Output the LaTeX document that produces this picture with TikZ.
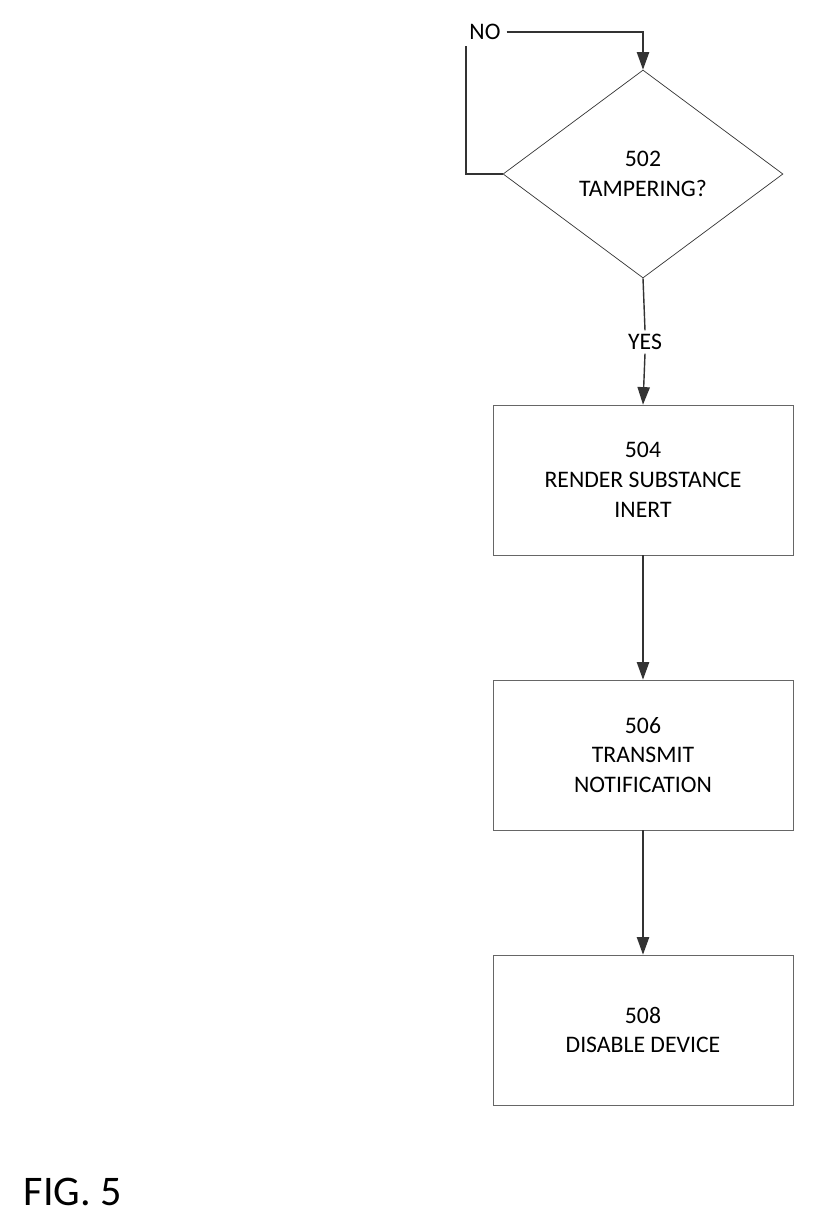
\documentclass[tikz,border=0pt]{standalone}
\usepackage{fontspec}
\setmainfont{Carlito}
\usetikzlibrary{shapes.geometric,arrows.meta}
\begin{document}
\begin{tikzpicture}[x=0.02cm, y=-0.02cm,
  every node/.style={font=\fontsize{13.5}{17}\selectfont},
  block/.style={draw=black!60, minimum width=6cm, minimum height=3cm, align=center, inner sep=0pt},
  decision/.style={draw=black!80, diamond, minimum width=5.6cm, minimum height=4.16cm, align=center, inner sep=0pt},
  flow/.style={draw=black!80, thick, -{Triangle[width=7pt,length=10pt]}}]
  \useasboundingbox (0,0) rectangle (815,1228);

  % decision and steps
  \node[decision] (tamper) at (643,174) {502\\TAMPERING?};
  \node[block] (inert) at (643,480) {504\\RENDER SUBSTANCE\\INERT};
  \node[block] (notify) at (643,755) {506\\TRANSMIT\\NOTIFICATION};
  \node[block] (disable) at (643,1030) {508\\DISABLE DEVICE};

  % loop back
  \node (no) at (485,32) {NO};
  \coordinate (loopa) at (466,174);
  \coordinate (loopb) at (466,46);
  \coordinate (loopc) at (643,32);
  \draw[draw=black!80, thick] (tamper.west) -- (loopa) -- (loopb);
  \draw[flow] (no.east) -- (loopc) -- (tamper.north);

  % yes branch
  \node[fill=white, inner sep=2pt] (yes) at (645,342) {YES};
  \draw[draw=black!80, thick] (tamper.south) -- (yes.north);
  \draw[flow] (yes.south) -- (inert.north);
  \draw[flow] (inert) -- (notify);
  \draw[flow] (notify) -- (disable);

  \node[font=\fontsize{24}{28}\selectfont] (fig) at (73,1192) {FIG. 5};
\end{tikzpicture}
\end{document}
